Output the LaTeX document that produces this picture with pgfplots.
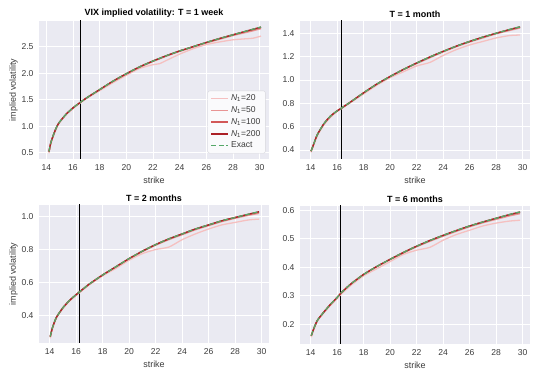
\documentclass[border=0pt]{standalone}
\usepackage{fontspec}
\setmainfont{Liberation Sans}
\usepackage{pgfplots}
\usepackage{pgfplotstable}
\pgfplotsset{compat=1.18}

\definecolor{bgc}{RGB}{234,234,242}
\definecolor{tickc}{RGB}{60,60,60}
\definecolor{legbg}{RGB}{250,250,252}
\definecolor{legbd}{RGB}{215,215,220}
\definecolor{nA}{RGB}{245,192,192}
\definecolor{nB}{RGB}{232,148,148}
\definecolor{nC}{RGB}{210,88,88}
\definecolor{nD}{RGB}{172,32,38}
\definecolor{exc}{RGB}{85,168,104}

% T = 1 week
\pgfplotstableread{
K     n20   n50   n100  n200  ex
14.2  0.49  0.51  0.52  0.52  0.52
14.3  0.62  0.64  0.65  0.65  0.65
14.4  0.72  0.73  0.74  0.74  0.74
14.6  0.86  0.87  0.88  0.88  0.88
14.8  0.98  0.99  1.00  1.00  1.00
15.0  1.07  1.08  1.08  1.08  1.08
15.5  1.22  1.23  1.23  1.23  1.23
16.0  1.33  1.34  1.345 1.345 1.345
16.5  1.43  1.44  1.44  1.44  1.44
17.0  1.52  1.53  1.53  1.53  1.53
18.0  1.67  1.69  1.69  1.69  1.69
19.0  1.82  1.84  1.85  1.85  1.85
20.0  1.96  1.98  1.99  1.99  1.99
21.0  2.09  2.11  2.12  2.12  2.12
22.0  2.16  2.22  2.23  2.23  2.23
22.5  2.18  2.27  2.28  2.28  2.28
23.0  2.24  2.32  2.33  2.33  2.33
24.0  2.36  2.41  2.42  2.42  2.42
25.0  2.46  2.49  2.50  2.50  2.50
26.0  2.54  2.57  2.58  2.58  2.58
27.0  2.59  2.64  2.655 2.655 2.655
28.0  2.63  2.71  2.725 2.725 2.725
29.0  2.65  2.77  2.79  2.795 2.795
29.5  2.66  2.80  2.82  2.83  2.83
30.1  2.70  2.84  2.86  2.87  2.87
}\tabA

% T = 1 month
\pgfplotstableread{
K     n20   n50   n100  n200  ex
14.03 0.38  0.39  0.39  0.39  0.39
14.2  0.43  0.44  0.44  0.44  0.44
14.5  0.52  0.53  0.53  0.53  0.53
15.0  0.615 0.62  0.625 0.625 0.625
15.5  0.68  0.69  0.69  0.69  0.69
16.0  0.73  0.735 0.735 0.735 0.735
16.3  0.752 0.757 0.757 0.757 0.757
17.0  0.805 0.81  0.81  0.81  0.81
18.0  0.88  0.89  0.89  0.89  0.89
19.0  0.955 0.963 0.965 0.965 0.965
20.0  1.02  1.028 1.03  1.03  1.03
21.0  1.07  1.088 1.09  1.09  1.09
22.0  1.12  1.14  1.145 1.145 1.145
23.0  1.15  1.19  1.197 1.197 1.197
24.0  1.21  1.24  1.245 1.245 1.245
25.0  1.26  1.285 1.29  1.29  1.29
26.0  1.30  1.325 1.33  1.33  1.33
27.0  1.33  1.36  1.367 1.367 1.367
28.0  1.36  1.395 1.40  1.40  1.40
29.0  1.38  1.423 1.43  1.432 1.432
29.8  1.385 1.445 1.452 1.455 1.455
}\tabB

% T = 2 months
\pgfplotstableread{
K     n20   n50   n100  n200  ex
14.05 0.26  0.27  0.27  0.27  0.27
14.2  0.31  0.32  0.32  0.32  0.32
14.5  0.38  0.385 0.385 0.385 0.385
15.0  0.44  0.445 0.445 0.445 0.445
15.5  0.485 0.49  0.49  0.49  0.49
16.0  0.52  0.525 0.525 0.525 0.525
16.3  0.54  0.545 0.545 0.545 0.545
17.0  0.585 0.59  0.59  0.59  0.59
18.0  0.64  0.645 0.645 0.645 0.645
19.0  0.685 0.693 0.695 0.695 0.695
20.0  0.735 0.743 0.745 0.745 0.745
21.0  0.775 0.787 0.79  0.79  0.79
22.0  0.80  0.826 0.83  0.83  0.83
23.0  0.815 0.86  0.865 0.865 0.865
24.0  0.86  0.89  0.895 0.895 0.895
25.0  0.895 0.92  0.925 0.925 0.925
26.0  0.925 0.945 0.95  0.95  0.95
27.0  0.95  0.97  0.975 0.975 0.975
28.0  0.965 0.99  0.995 0.995 0.995
29.0  0.98  1.008 1.013 1.015 1.015
29.8  0.985 1.02  1.027 1.03  1.03
}\tabC

% T = 6 months
\pgfplotstableread{
K     n20   n50   n100  n200  ex
14.05 0.155 0.16  0.16  0.16  0.16
14.2  0.175 0.18  0.18  0.18  0.18
14.5  0.21  0.213 0.213 0.213 0.213
15.0  0.24  0.243 0.243 0.243 0.243
15.5  0.266 0.27  0.27  0.27  0.27
16.0  0.29  0.294 0.294 0.294 0.294
16.3  0.305 0.31  0.31  0.31  0.31
17.0  0.335 0.34  0.34  0.34  0.34
18.0  0.37  0.375 0.375 0.375 0.375
19.0  0.395 0.402 0.403 0.403 0.403
20.0  0.42  0.427 0.428 0.428 0.428
21.0  0.445 0.45  0.452 0.452 0.452
22.0  0.46  0.472 0.474 0.474 0.474
23.0  0.47  0.491 0.494 0.494 0.494
24.0  0.495 0.509 0.512 0.512 0.512
25.0  0.515 0.526 0.529 0.529 0.529
26.0  0.53  0.542 0.545 0.545 0.545
27.0  0.545 0.556 0.559 0.559 0.559
28.0  0.555 0.568 0.572 0.572 0.572
29.0  0.562 0.58  0.584 0.585 0.585
29.8  0.565 0.588 0.592 0.594 0.594
}\tabD

\pgfplotsset{
  panel/.style={
    scale only axis, width=230bp, height=138bp,
    axis background/.style={fill=bgc},
    axis line style={draw=none},
    grid=major, major grid style={white, line width=0.9pt},
    tick style={draw=none},
    ticklabel style={font=\fontsize{8.6}{10}\selectfont, text=tickc},
    xticklabel style={yshift=-2pt},
    yticklabel style={xshift=-2pt},
    label style={font=\fontsize{9}{11}\selectfont, text=tickc},
    ylabel shift=-3pt,
    title style={font=\bfseries\fontsize{9}{11}\selectfont, yshift=-6pt},
    /pgf/number format/assume math mode=true,
    yticklabel={\pgfmathprintnumber[fixed,fixed zerofill,precision=1]{\tick}},
    xtick={14,16,...,30},
    xlabel={strike},
    xmin=13.2, xmax=30.55,
  },
  cv/.style={line width=1.3pt, smooth, tension=0.4},
}

\newcommand{\curves}[2]{%
  \addplot[black, line width=1pt, forget plot] coordinates {(#2,-5) (#2,5)};
  \addplot[cv, color=nA] table[x=K,y=n20]{#1};
  \addplot[cv, color=nB] table[x=K,y=n50]{#1};
  \addplot[cv, color=nC] table[x=K,y=n100]{#1};
  \addplot[cv, color=nD] table[x=K,y=n200]{#1};
  \addplot[cv, color=exc, dash pattern=on 5pt off 2.5pt] table[x=K,y=ex]{#1};
}

\begin{document}
\begin{tikzpicture}
\path[use as bounding box] (0,0) rectangle (542bp,379bp);

\begin{axis}[panel, at={(39bp,220bp)}, anchor=south west,
  title={VIX implied volatility: T = 1 week},
  ylabel={implied volatility},
  xmin=13.45, xmax=30.7, ymin=0.38, ymax=2.985,
  ytick={0.5,1.0,...,2.5},
  legend style={at={(rel axis cs:0.985,0.04)}, anchor=south east,
    fill=legbg, draw=legbd, rounded corners=2pt,
    font=\fontsize{8.6}{10}\selectfont, text=tickc,
    row sep=0.3pt, inner xsep=3pt, inner ysep=2pt,
    /tikz/every even column/.append style={column sep=2pt}},
  legend cell align=left,
]
\curves{\tabA}{16.55}
\legend{{\itshape N}\textsubscript{1}=20,{\itshape N}\textsubscript{1}=50,{\itshape N}\textsubscript{1}=100,{\itshape N}\textsubscript{1}=200,Exact}
\end{axis}

\begin{axis}[panel, at={(300bp,220bp)}, anchor=south west,
  title={T = 1 month},
  ymin=0.323, ymax=1.505,
  ytick={0.4,0.6,...,1.41},
]
\curves{\tabB}{16.33}
\end{axis}

\begin{axis}[panel, at={(39bp,36bp)}, anchor=south west,
  title={T = 2 months},
  ylabel={implied volatility},
  ymin=0.231, ymax=1.071,
  ytick={0.4,0.6,0.8,1.0},
]
\curves{\tabC}{16.26}
\end{axis}

\begin{axis}[panel, at={(300bp,35bp)}, anchor=south west,
  title={T = 6 months},
  ymin=0.131, ymax=0.615,
  ytick={0.2,0.3,0.4,0.5,0.6},
]
\curves{\tabD}{16.27}
\end{axis}
\end{tikzpicture}
\end{document}
